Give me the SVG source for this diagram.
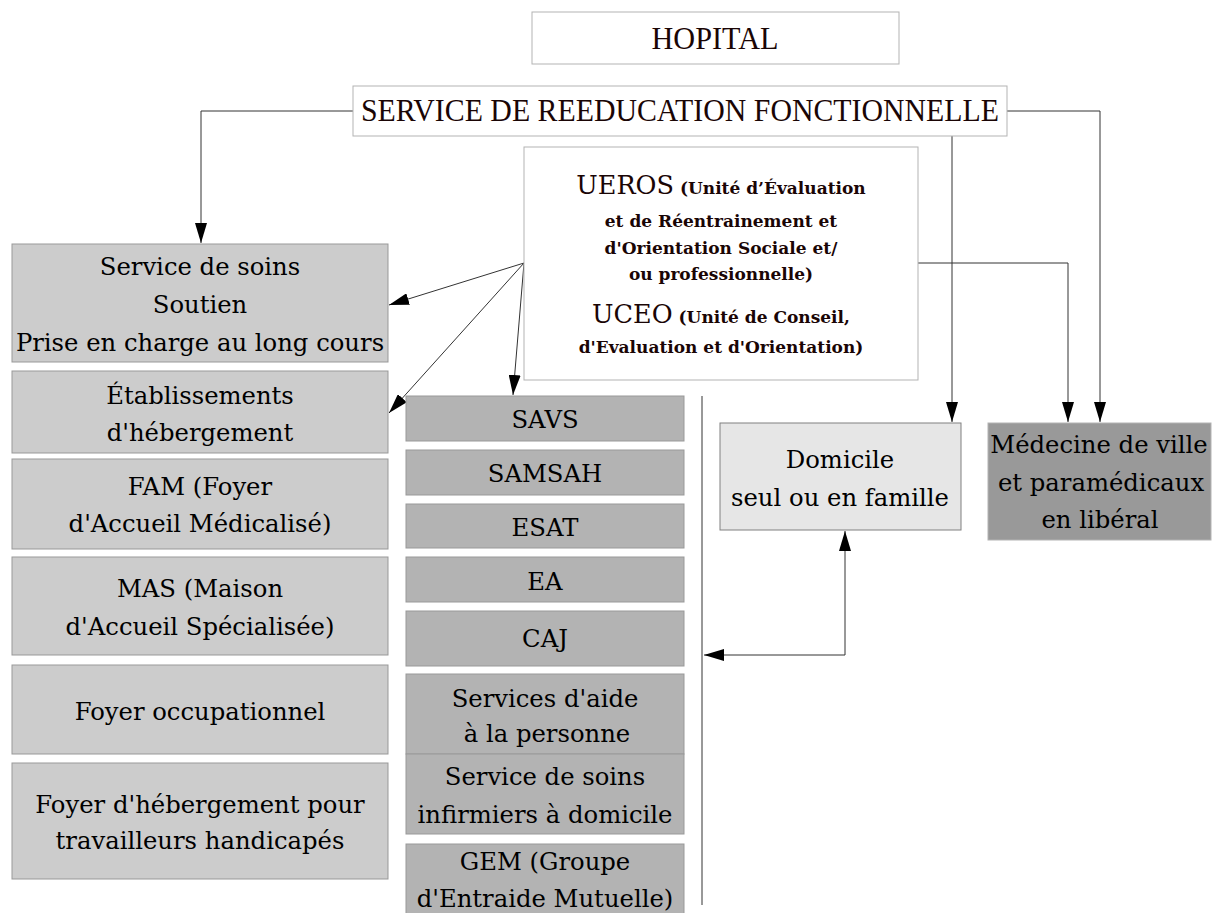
<svg xmlns="http://www.w3.org/2000/svg" width="1215" height="913" viewBox="0 0 1215 913">
<style>
.bx{stroke:#999;stroke-width:1}
.wb{fill:#fff;stroke:#b3b3b3;stroke-width:1}
.l{fill:#ccc}
.m{fill:#b3b3b3}
.t{font-family:"DejaVu Serif","Liberation Serif",serif;font-size:24.3px;fill:#000;text-anchor:middle}
.cap{font-family:"Liberation Serif",serif;font-size:31px;fill:#1a0505;text-anchor:middle}
.u{font-family:"DejaVu Serif","Liberation Serif",serif;fill:#1a0505;text-anchor:middle}
.big{font-size:25.5px}
.sm{font-size:17px;font-weight:bold}
.c{fill:none;stroke:#333;stroke-width:1}
</style>
<defs>
<marker id="arr" viewBox="0 0 20 12" refX="20" refY="6" markerWidth="20" markerHeight="12" markerUnits="userSpaceOnUse" orient="auto-start-reverse">
<path d="M0,0 L20,6 L0,12 z" fill="#000"/>
</marker>
</defs>
<rect width="1215" height="913" fill="#fff"/>

<g id="connectors">
<path class="c" d="M353,111 H201 V243" marker-end="url(#arr)"/>
<path class="c" d="M1007,111 H1100 V422" marker-end="url(#arr)"/>
<path class="c" d="M952,136 V422" marker-end="url(#arr)"/>
<path class="c" d="M918,263 H1068 V422" marker-end="url(#arr)"/>
<path class="c" d="M524,263 L389,305" marker-end="url(#arr)"/>
<path class="c" d="M524,263 L389,413" marker-end="url(#arr)"/>
<path class="c" d="M524,263 L513,395" marker-end="url(#arr)"/>
<path class="c" d="M702,396 V905"/>
<path class="c" d="M845,531 V655 H704" marker-start="url(#arr)" marker-end="url(#arr)"/>
</g>

<g id="hopital">
<rect class="wb" x="532" y="12" width="367" height="52"/>
<text class="cap" x="715" y="49" textLength="127" lengthAdjust="spacingAndGlyphs">HOPITAL</text>
</g>
<g id="service-reeducation">
<rect class="wb" x="353" y="86" width="654" height="50"/>
<text class="cap" x="680" y="121" textLength="638" lengthAdjust="spacingAndGlyphs">SERVICE DE REEDUCATION FONCTIONNELLE</text>
</g>
<g id="ueros">
<rect class="wb" x="524" y="147" width="394" height="233"/>
<text class="u" x="721" y="194"><tspan class="big">UEROS</tspan><tspan class="sm"> (Unité d’Évaluation</tspan></text>
<text class="u sm" x="721" y="227">et de Réentrainement et</text>
<text class="u sm" x="721" y="254">d'Orientation Sociale et/</text>
<text class="u sm" x="721" y="280">ou professionnelle)</text>
<text class="u" x="721" y="323"><tspan class="big">UCEO</tspan><tspan class="sm"> (Unité de Conseil,</tspan></text>
<text class="u sm" x="721" y="353">d'Evaluation et d'Orientation)</text>
</g>

<g id="service-soins">
<rect class="bx l" x="12" y="244" width="376" height="118"/>
<text class="t" x="200" y="275">Service de soins</text>
<text class="t" x="200" y="313">Soutien</text>
<text class="t" x="200" y="351">Prise en charge au long cours</text>
</g>
<g id="etablissements">
<rect class="bx l" x="12" y="371" width="376" height="82"/>
<text class="t" x="200" y="404">Établissements</text>
<text class="t" x="200" y="441">d'hébergement</text>
</g>
<g id="fam">
<rect class="bx l" x="12" y="459" width="376" height="90"/>
<text class="t" x="200" y="495">FAM (Foyer</text>
<text class="t" x="200" y="532">d'Accueil Médicalisé)</text>
</g>
<g id="mas">
<rect class="bx l" x="12" y="557" width="376" height="98"/>
<text class="t" x="200" y="597">MAS (Maison</text>
<text class="t" x="200" y="635">d'Accueil Spécialisée)</text>
</g>
<g id="foyer-occupationnel">
<rect class="bx l" x="12" y="665" width="376" height="89"/>
<text class="t" x="200" y="720">Foyer occupationnel</text>
</g>
<g id="foyer-hebergement">
<rect class="bx l" x="12" y="763" width="376" height="116"/>
<text class="t" x="200" y="813">Foyer d'hébergement pour</text>
<text class="t" x="200" y="849">travailleurs handicapés</text>
</g>

<g id="savs">
<rect class="bx m" x="406" y="396" width="278" height="45"/>
<text class="t" x="545" y="428">SAVS</text>
</g>
<g id="samsah">
<rect class="bx m" x="406" y="450" width="278" height="45"/>
<text class="t" x="545" y="482">SAMSAH</text>
</g>
<g id="esat">
<rect class="bx m" x="406" y="504" width="278" height="44"/>
<text class="t" x="545" y="536">ESAT</text>
</g>
<g id="ea">
<rect class="bx m" x="406" y="557" width="278" height="45"/>
<text class="t" x="545" y="590">EA</text>
</g>
<g id="caj">
<rect class="bx m" x="406" y="611" width="278" height="55"/>
<text class="t" x="545" y="647">CAJ</text>
</g>
<g id="services-aide">
<rect class="bx m" x="406" y="674" width="278" height="80"/>
<text class="t" x="545" y="707">Services d'aide</text>
<text class="t" x="547" y="742">à la personne</text>
</g>
<g id="ssiad">
<rect class="bx m" x="406" y="754" width="278" height="80"/>
<text class="t" x="545" y="785">Service de soins</text>
<text class="t" x="545" y="823">infirmiers à domicile</text>
</g>
<g id="gem">
<rect class="bx m" x="406" y="844" width="278" height="75"/>
<text class="t" x="545" y="870">GEM (Groupe</text>
<text class="t" x="545" y="907">d'Entraide Mutuelle)</text>
</g>

<g id="domicile">
<rect x="720" y="423" width="241" height="107" fill="#e6e6e6" stroke="#808080" stroke-width="1"/>
<text class="t" x="840" y="468">Domicile</text>
<text class="t" x="840" y="506">seul ou en famille</text>
</g>
<g id="medecine">
<rect x="988" y="423" width="223" height="117" fill="#999" stroke="#b3b3b3" stroke-width="1"/>
<text class="t" x="1099" y="453">Médecine de ville</text>
<text class="t" x="1101" y="491">et paramédicaux</text>
<text class="t" x="1100" y="528">en libéral</text>
</g>
</svg>
